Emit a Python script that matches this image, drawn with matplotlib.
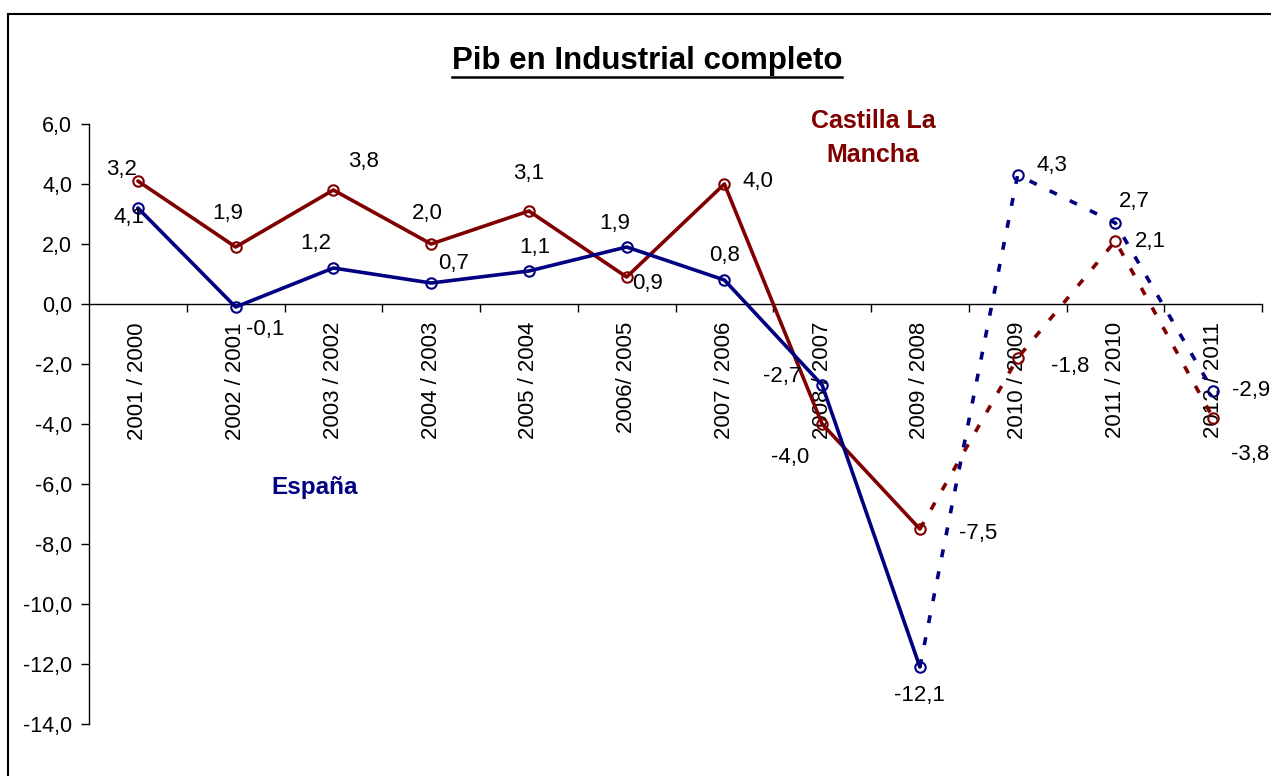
import numpy as np
import matplotlib.pyplot as plt
from matplotlib.lines import Line2D

plt.rcParams['font.family'] = ['Liberation Sans', 'DejaVu Sans']

# data
periodos = ['2001 / 2000', '2002 / 2001', '2003 / 2002', '2004 / 2003', '2005 / 2004',
            '2006/ 2005', '2007 / 2006', '2008 / 2007', '2009 / 2008', '2010 / 2009',
            '2011 / 2010', '2012 / 2011']
espana = [3.2, -0.1, 1.2, 0.7, 1.1, 1.9, 0.8, -2.7, -12.1, 4.3, 2.7, -2.9]
clm = [4.1, 1.9, 3.8, 2.0, 3.1, 0.9, 4.0, -4.0, -7.5, -1.8, 2.1, -3.8]
yticks = [6, 4, 2, 0, -2, -4, -6, -8, -10, -12, -14]
corte = 8  # solid up to 2009/2008, dashed after

# label offsets in pixels (x, y up) -- Excel placed them by hand
off_esp = [(-16, 38), (30, -23), (-18, 24), (22, 20), (6, 23), (-12, 24),
           (0, 25), (-40, 8), (0, -29), (34, 10), (19, 21), (38, 0)]
off_clm = [(-9, -36), (-8, 34), (30, 28), (-4, 31), (0, 38), (21, -7),
           (34, 2), (-32, -34), (58, -5), (53, -9), (35, -1), (37, -37)]

azul = '#000080'
rojo = '#800000'

fig = plt.figure(figsize=(12.71, 7.76), dpi=100)
ax = fig.add_axes([89/1271, 1-724/776, (1262-89)/1271, 600/776])

x = np.arange(len(periodos))
dash = (0, (2.2, 4.0))
for serie, col in [(clm, rojo), (espana, azul)]:
    ax.plot(x[:corte+1], serie[:corte+1], color=col, lw=2.6, solid_capstyle='round', zorder=3)
    ax.plot(x[corte:], serie[corte:], color=col, lw=2.6, linestyle=dash, dash_capstyle='butt', zorder=3)
    ax.plot(x, serie, 'o', ms=7.5, mfc='none', mec=col, mew=1.5, zorder=4)

for serie, offs in [(espana, off_esp), (clm, off_clm)]:
    for i, v in enumerate(serie):
        ax.annotate(f'{v:.1f}'.replace('.', ','), (x[i], v), xytext=offs[i],
                    textcoords='offset pixels', ha='center', va='center', fontsize=16, zorder=5)

ax.set_xlim(-0.5, len(periodos) - 0.5)
ax.set_ylim(-14, 6)
ax.set_yticks(yticks)
ax.set_yticklabels([f'{t:.1f}'.replace('.', ',') for t in yticks], fontsize=15.5)
ax.tick_params(axis='y', length=6, width=1, pad=6)

ax.spines['top'].set_visible(False)
ax.spines['right'].set_visible(False)
ax.spines['bottom'].set_position(('data', 0))
ax.spines['bottom'].set_linewidth(1)
ax.spines['left'].set_linewidth(1)

ax.set_xticks(np.arange(0.5, len(periodos)))
ax.set_xticklabels([])
ax.set_xticks(x, minor=True)
ax.set_xticklabels(periodos, minor=True, rotation=90, fontsize=16)
ax.tick_params(axis='x', which='major', length=6, width=1)
ax.tick_params(axis='x', which='minor', length=0, pad=13)

ax.text(7.52, 5.53, 'Castilla La\nMancha', color=rojo, fontsize=18, fontweight='bold',
        ha='center', va='center', linespacing=1.5)
ax.text(1.81, -6.13, 'España', color=azul, fontsize=17.5, fontweight='bold',
        ha='center', va='center')

# outer chart frame (only top/left are visible in the picture)
fig.add_artist(Line2D([8/1271, 1], [1-14/776, 1-14/776], color='black', lw=1.5, transform=fig.transFigure))
fig.add_artist(Line2D([8/1271, 8/1271], [0, 1-14/776], color='black', lw=1.5, transform=fig.transFigure))

titulo = fig.text(647/1271, 1-61/776, 'Pib en Industrial completo', fontsize=22.5,
                  fontweight='bold', ha='center', va='center')
fig.canvas.draw()
bb = titulo.get_window_extent()
yline = (bb.y0 - 1) / fig.bbox.height
fig.add_artist(Line2D([bb.x0/fig.bbox.width, bb.x1/fig.bbox.width], [yline, yline],
                      color='black', lw=1.8, transform=fig.transFigure))

fig.savefig('out.png', dpi=100)
